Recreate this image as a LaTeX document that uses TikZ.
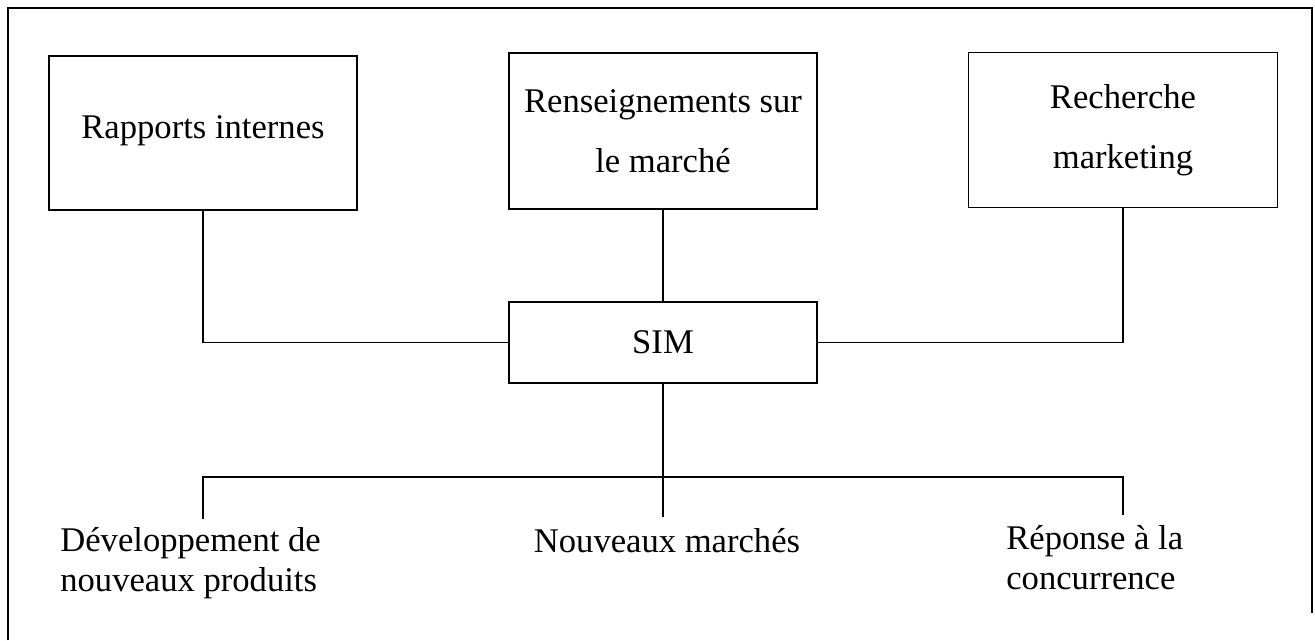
\documentclass[tikz,border=0pt]{standalone}
\usepackage{fontspec}
\setmainfont{Liberation Serif}
\usepackage{tikz}
\usetikzlibrary{calc}

\tikzset{
  bloc/.style={draw,line width=0.8pt,inner sep=0pt,align=center,font={\fontsize{19.7}{34}\selectfont}},
  sortie/.style={inner sep=0pt,font={\fontsize{19.7}{22.8}\selectfont}},
  lien/.style={line width=0.8pt}
}

\begin{document}
\begin{tikzpicture}[x=0.02cm,y=-0.02cm]

\useasboundingbox (0,0) rectangle (1315,640);

% cadre ouvert en bas
\draw[lien] (8,640) -- (8,8) -- (1312,8) -- (1312,613);

% les trois sources
\node[bloc,minimum width=6.16cm,minimum height=3.08cm,text depth=0.25cm] (rapports) at (203,133) {Rapports internes};
\node[bloc,minimum width=6.16cm,minimum height=3.12cm] (renseign) at (663,131) {Renseignements sur\\le march\'e};
\node[bloc,minimum width=6.18cm,minimum height=3.10cm] (recherche) at (1123,130) {Recherche\\marketing};

\node[bloc,minimum width=6.16cm,minimum height=1.62cm] (sim) at (663,342.5) {SIM};

\draw[lien] (rapports.south) |- (sim.west);
\draw[lien] (recherche.south) |- (sim.east);
\draw[lien] (renseign.south) -- (sim.north);

% les sorties
\coordinate (busg) at (203,477);
\coordinate (busd) at (1123,477);
\coordinate (piedg) at (203,519);
\coordinate (piedm) at (663,517);
\coordinate (piedd) at (1123,515);

\draw[lien] (sim.south) -- (piedm);
\draw[lien] (piedg) -- (busg) -- (busd) -- (piedd);

\node[sortie,align=left,anchor=west] (dev) at (60,563) {D\'eveloppement de\\nouveaux produits};
\node[sortie,anchor=center] (marches) at (667,541) {Nouveaux march\'es};
\node[sortie,align=left,anchor=west] (reponse) at (1006,558) {R\'eponse \`a la\\concurrence};

\end{tikzpicture}
\end{document}
